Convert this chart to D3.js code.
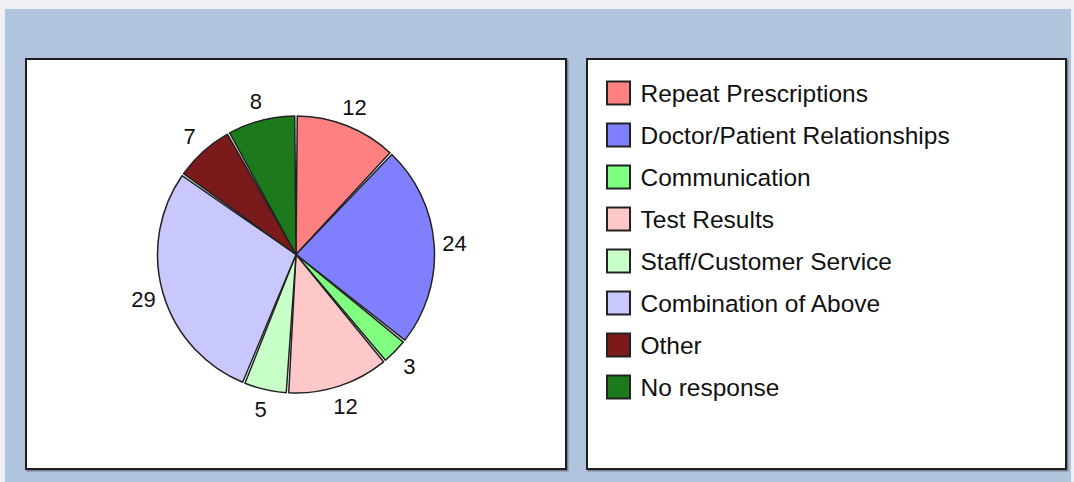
<!DOCTYPE html>
<meta charset="utf-8">
<style>
  body { margin: 0; background: #eef0f6; }
  text { font-family: "Liberation Sans", Arial, sans-serif; }
</style>
<script src="https://d3js.org/d3.v7.min.js"></script>
<div id="chart"></div>
<script>
// data
var categories = ["Repeat Prescriptions", "Doctor/Patient Relationships", "Communication",
                  "Test Results", "Staff/Customer Service", "Combination of Above",
                  "Other", "No response"];
var values = [12, 24, 3, 12, 5, 29, 7, 8];
var colors = ["#ff8080", "#8080ff", "#80ff80", "#ffc8c8", "#c8ffc8", "#c8c8ff", "#7b1a1a", "#1c7a1c"];

var W = 1074, H = 482;

var svg = d3.select("#chart").append("svg")
    .attr("width", W)
    .attr("height", H);

// blue backdrop
svg.append("rect")
    .attr("x", 5).attr("y", 9)
    .attr("width", W - 8).attr("height", H - 9)
    .attr("fill", "#b0c4de");

// the two white panels, with a small shadow
function panel(x, y, w, h) {
  svg.append("rect")
      .attr("x", x + 1.5).attr("y", y + 1.5)
      .attr("width", w).attr("height", h)
      .attr("fill", "none")
      .attr("stroke", "#7a8494")
      .attr("stroke-width", 2);
  svg.append("rect")
      .attr("x", x).attr("y", y)
      .attr("width", w).attr("height", h)
      .attr("fill", "#fff")
      .attr("stroke", "#1e1e1e")
      .attr("stroke-width", 2);
}
panel(26, 59, 540, 410);
panel(587, 59, 479, 410);

// pie
var cx = 296, cy = 254.5, radius = 138.5;

var pie = d3.pie()
    .sort(null)
    .value(function(d) { return d; })
    .padAngle(0.018);

var arc = d3.arc()
    .innerRadius(0)
    .outerRadius(radius)
    .padRadius(radius);

var labelArc = d3.arc()
    .innerRadius(159)
    .outerRadius(159);

var g = svg.append("g")
    .attr("transform", "translate(" + cx + "," + cy + ")");

var arcs = pie(values);

g.selectAll("path.slice")
    .data(arcs)
    .enter()
    .append("path")
    .attr("class", "slice")
    .attr("d", arc)
    .attr("fill", function(d, i) { return colors[i]; })
    .attr("stroke", "#222")
    .attr("stroke-width", 1.5)
    .attr("stroke-linejoin", "round");

g.selectAll("text.lbl")
    .data(arcs)
    .enter()
    .append("text")
    .attr("class", "lbl")
    .attr("transform", function(d) { return "translate(" + labelArc.centroid(d) + ")"; })
    .attr("text-anchor", "middle")
    .attr("dy", "0.36em")
    .style("font-size", "22px")
    .style("fill", "#111")
    .text(function(d) { return d.value; });

// legend
var legend = svg.append("g")
    .attr("transform", "translate(606,93)");

var row = legend.selectAll("g")
    .data(categories)
    .enter()
    .append("g")
    .attr("transform", function(d, i) { return "translate(0," + (i * 42) + ")"; });

row.append("rect")
    .attr("x", 1).attr("y", -11.5)
    .attr("width", 23).attr("height", 23)
    .attr("fill", function(d, i) { return colors[i]; })
    .attr("stroke", "#222")
    .attr("stroke-width", 2);

row.append("text")
    .attr("x", 34.5)
    .attr("dy", "0.36em")
    .style("font-size", "24.5px")
    .style("fill", "#111")
    .text(function(d) { return d; });
</script>
